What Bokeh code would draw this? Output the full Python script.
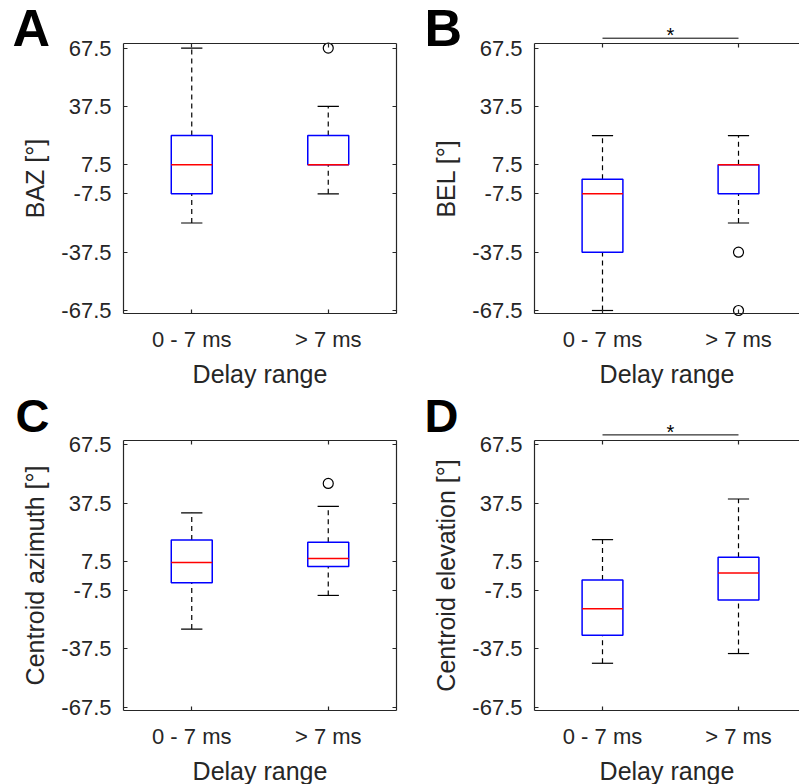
from bokeh.plotting import figure
from bokeh.layouts import row, column
from bokeh.models import LinearAxis, FixedTicker, Range1d, ColumnDataSource
from bokeh.core.properties import value
from bokeh.embed import file_html
from bokeh.resources import INLINE

FONT = "Liberation Sans"
AX = "#262626"

groups = ["0 - 7 ms", "> 7 ms"]
y_ticks = [-67.5, -37.5, -7.5, 7.5, 37.5, 67.5]
x_label = "Delay range"

# Panel A: BAZ
baz_low = [-22.5, -7.5]
baz_q1 = [-7.5, 7.5]
baz_med = [7.5, 7.5]
baz_q3 = [22.5, 22.5]
baz_high = [67.5, 37.5]
baz_out_group = [2]
baz_out = [67.5]

# Panel B: BEL
bel_low = [-67.5, -22.5]
bel_q1 = [-37.5, -7.5]
bel_med = [-7.5, 7.5]
bel_q3 = [0.0, 7.5]
bel_high = [22.5, 22.5]
bel_out_group = [2, 2]
bel_out = [-37.5, -67.5]

# Panel C: centroid azimuth
caz_low = [-27.3, -10.0]
caz_q1 = [-3.5, 4.9]
caz_med = [7.0, 9.0]
caz_q3 = [18.5, 17.3]
caz_high = [32.5, 35.8]
caz_out_group = [2]
caz_out = [47.6]

# Panel D: centroid elevation
cel_low = [-44.9, -39.9]
cel_q1 = [-30.5, -12.4]
cel_med = [-16.9, 1.5]
cel_q3 = [-2.1, 9.6]
cel_high = [18.7, 39.6]
cel_out_group = []
cel_out = []

# significance bar (panels B and D): groups compared
sig_pair = [1, 2]

# axes box limits (data units)
X0, X1 = 0.5, 2.5
Y0, Y1 = -69.2, 69.7
BOX_H = 270                      # px height of the axes box
PPU_Y = BOX_H / (Y1 - Y0)        # px per data unit (y)
BOX_W = 0.30
CAP_W = 0.156


def style_axis(ax):
    ax.axis_line_color = AX
    ax.axis_line_width = 1.2
    ax.major_tick_line_color = AX
    ax.major_tick_line_width = 1.2
    ax.major_tick_in = 4
    ax.major_tick_out = 0
    ax.minor_tick_line_color = AX
    ax.minor_tick_line_width = 1.2
    ax.minor_tick_in = 4
    ax.minor_tick_out = 0
    ax.major_label_text_font = FONT
    ax.major_label_text_color = AX
    ax.axis_label_text_font = FONT
    ax.axis_label_text_font_style = "normal"
    ax.axis_label_text_color = AX
    ax.major_label_text_font_size = "22px"
    ax.axis_label_text_font_size = "25px"


def make_panel(letter, ylabel, low, q1, med, q3, high, out_g, out_v, sig,
               width, height, box_left, box_top, ppu_x, right_axis, letter_dx, letter_dy, letter_size):
    x_range = Range1d(X0 - box_left / ppu_x, X0 + (width - box_left) / ppu_x)
    y_range = Range1d(Y1 - (height - box_top) / PPU_Y, Y1 + box_top / PPU_Y)
    p = figure(width=width, height=height, x_range=x_range, y_range=y_range,
               output_backend="svg", toolbar_location=None,
               x_axis_location=None, y_axis_location=None,
               min_border_left=0, min_border_right=0, min_border_top=0, min_border_bottom=0)
    p.outline_line_color = None
    p.xgrid.visible = False
    p.ygrid.visible = False
    p.background_fill_color = "white"
    p.border_fill_color = "white"

    xpos = [i + 1 for i in range(len(groups))]
    xover = {x: g for x, g in zip(xpos, groups)}
    yover = {t: f"{t:g}" for t in y_ticks}

    b = LinearAxis(fixed_location=Y0, bounds=(X0, X1), ticker=FixedTicker(ticks=xpos),
                   major_label_overrides=xover, axis_label=x_label)
    style_axis(b)
    b.major_label_standoff = 13
    b.axis_label_standoff = 5
    p.add_layout(b, "below")

    l = LinearAxis(fixed_location=X0, bounds=(Y0, Y1), ticker=FixedTicker(ticks=y_ticks),
                   major_label_overrides=yover, axis_label=ylabel)
    style_axis(l)
    l.major_label_standoff = 12
    l.axis_label_standoff = 9
    p.add_layout(l, "left")

    t = LinearAxis(fixed_location=Y1, bounds=(X0, X1), ticker=FixedTicker(ticks=[], minor_ticks=xpos))
    style_axis(t)
    p.add_layout(t, "above")
    if right_axis:
        r = LinearAxis(fixed_location=X1, bounds=(Y0, Y1), ticker=FixedTicker(ticks=[], minor_ticks=y_ticks))
        style_axis(r)
        p.add_layout(r, "right")

    src = ColumnDataSource(dict(
        x=xpos, left=[x - BOX_W / 2 for x in xpos], right=[x + BOX_W / 2 for x in xpos],
        cl=[x - CAP_W / 2 for x in xpos], cr=[x + CAP_W / 2 for x in xpos],
        low=low, q1=q1, med=med, q3=q3, high=high))
    p.segment(x0="x", y0="q3", x1="x", y1="high", source=src, line_color="black", line_width=1.2, line_dash="5 4")
    p.segment(x0="x", y0="low", x1="x", y1="q1", source=src, line_color="black", line_width=1.2, line_dash="5 4")
    p.segment(x0="cl", y0="high", x1="cr", y1="high", source=src, line_color="black", line_width=1.2)
    p.segment(x0="cl", y0="low", x1="cr", y1="low", source=src, line_color="black", line_width=1.2)
    p.quad(left="left", right="right", bottom="q1", top="q3", source=src,
           fill_color=None, line_color="#0000FF", line_width=1.5)
    p.segment(x0="left", y0="med", x1="right", y1="med", source=src, line_color="#FF0000", line_width=1.5)
    if out_v:
        p.scatter(x=out_g, y=out_v, marker="circle", size=10, fill_color=None, line_color="black", line_width=1.2)

    # panel letter (upper-left corner, outside the axes box)
    p.text(x=[X0], y=[Y1 + letter_dy / PPU_Y], text=[letter], x_offset=letter_dx,
           text_font=value(FONT), text_font_size=letter_size, text_font_style="bold", text_color="black",
           text_align="left", text_baseline="alphabetic")

    if sig:
        ys = Y1 + 5.6 / PPU_Y
        p.segment(x0=[sig_pair[0]], y0=[ys], x1=[sig_pair[1]], y1=[ys], line_color="black", line_width=1)
        p.text(x=[(sig_pair[0] + sig_pair[1]) / 2], y=[ys + 3.0 / PPU_Y], text=["*"],
               text_font=value(FONT), text_font_size="20px", text_color="black",
               text_align="center", text_baseline="middle")
    return p


# geometry (px)
A_W, B_W = 400, 399
H1, H2 = 390, 394
A_LEFT, B_LEFT = 123, 134
PPU_A, PPU_B = 136.5, 136.0
TOP1, TOP2 = 43.3, 50.0

pA = make_panel("A", "BAZ [°]", baz_low, baz_q1, baz_med, baz_q3, baz_high, baz_out_group, baz_out, False,
                A_W, H1, A_LEFT, TOP1, PPU_A, True, -111, 15.5, "52px")
pB = make_panel("B", "BEL [°]", bel_low, bel_q1, bel_med, bel_q3, bel_high, bel_out_group, bel_out, True,
                B_W, H1, B_LEFT, TOP1, PPU_B, False, -110, 15.5, "52px")
pC = make_panel("C", "Centroid azimuth [°]", caz_low, caz_q1, caz_med, caz_q3, caz_high, caz_out_group, caz_out, False,
                A_W, H2, A_LEFT, TOP2, PPU_A, True, -108, 25.3, "47px")
pD = make_panel("D", "Centroid elevation [°]", cel_low, cel_q1, cel_med, cel_q3, cel_high, cel_out_group, cel_out, True,
                B_W, H2, B_LEFT, TOP2, PPU_B, False, -110, 25.3, "47px")

layout = column(row(pA, pB), row(pC, pD))
open("out.html", "w").write(file_html(layout, INLINE))
